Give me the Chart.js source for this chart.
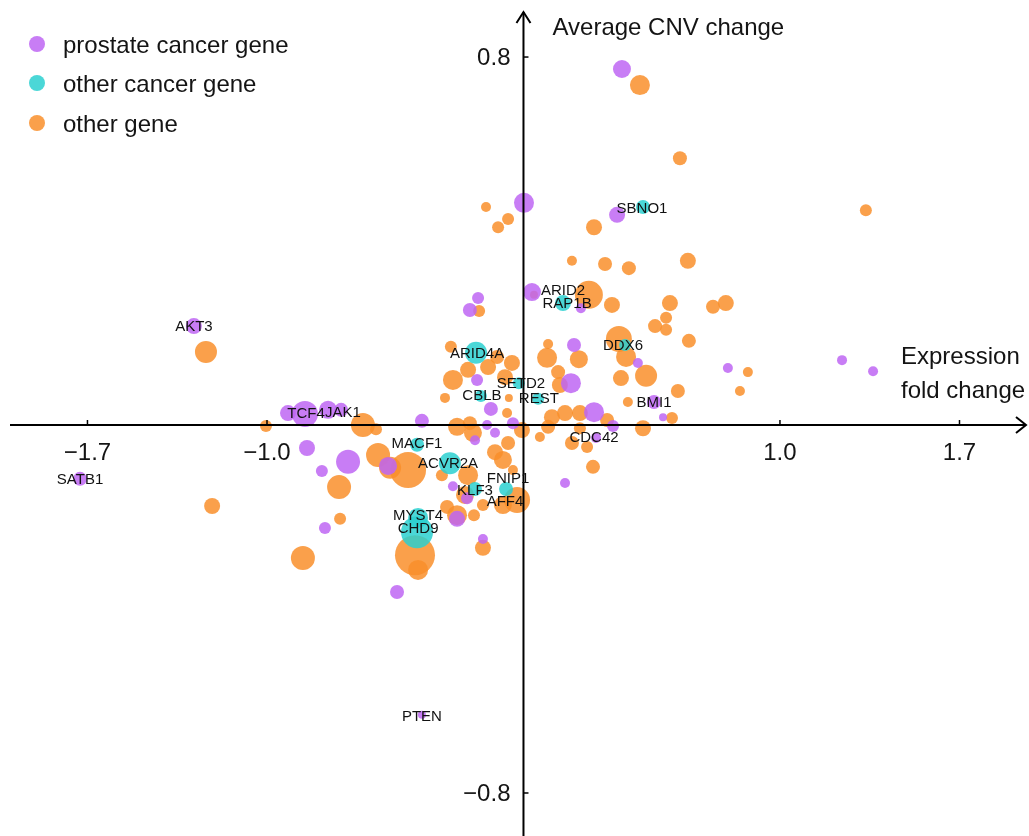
<!DOCTYPE html>
<html>
<head>
<meta charset="utf-8">
<script src="https://cdn.jsdelivr.net/npm/chart.js@4.4.1/dist/chart.umd.min.js"></script>
<style>
  html, body { margin: 0; padding: 0; background: #ffffff; }
  #wrap { width: 1029px; height: 836px; }
</style>
</head>
<body>
<div id="wrap"><canvas id="c" width="1029" height="836"></canvas></div>
<script>
// ---- DATA: [expression fold change, average CNV change, bubble size] ----
const seriesNames = ['prostate cancer gene', 'other cancer gene', 'other gene'];

const prostateGenes = [
  [0.384, 0.774, 9], [0.002, 0.483, 10], [0.365, 0.457, 8], [0.033, 0.289, 9],
  [0.224, 0.254, 5], [-0.177, 0.276, 6], [-0.209, 0.250, 7], [0.197, 0.174, 7],
  [0.446, 0.135, 5], [-0.181, 0.098, 6], [0.185, 0.091, 10], [-0.127, 0.035, 7],
  [-0.396, 0.009, 7], [0.275, 0.028, 10], [0.509, 0.050, 7], [0.544, 0.017, 4],
  [0.349, -0.002, 6], [0.283, -0.028, 5], [0.162, -0.126, 5], [-1.285, 0.215, 8],
  [-1.729, -0.117, 7], [-0.918, 0.026, 8], [-0.852, 0.024, 13], [-0.762, 0.033, 9],
  [-0.711, 0.033, 7], [-0.844, -0.050, 8], [-0.684, -0.080, 12], [-0.786, -0.100, 6],
  [-0.774, -0.224, 6], [-0.528, -0.089, 9], [-0.142, 0.000, 5], [-0.111, -0.017, 5],
  [-0.041, 0.004, 6], [-0.189, -0.033, 5], [-0.275, -0.133, 5], [-0.220, -0.159, 6],
  [-0.259, -0.204, 8], [-0.158, -0.248, 5], [-0.493, -0.363, 7], [-0.396, -0.630, 4],
  [0.797, 0.124, 5], [1.242, 0.141, 5], [1.363, 0.117, 5]
];

const otherCancerGenes = [
  [0.466, 0.474, 7], [0.154, 0.265, 8], [0.396, 0.174, 6], [-0.185, 0.157, 11],
  [-0.018, 0.091, 6], [-0.166, 0.063, 6], [0.057, 0.057, 6], [-0.415, -0.043, 7],
  [-0.287, -0.083, 11], [-0.189, -0.139, 7], [-0.068, -0.139, 7], [-0.411, -0.202, 10],
  [-0.415, -0.233, 16]
];

const otherGenes = [
  [0.454, 0.739, 10], [0.610, 0.580, 7], [1.335, 0.467, 6], [-0.146, 0.474, 5],
  [-0.060, 0.448, 6], [-0.099, 0.430, 6], [0.275, 0.430, 8], [0.189, 0.357, 5],
  [0.318, 0.350, 7], [0.411, 0.341, 7], [0.641, 0.357, 8], [0.255, 0.283, 14],
  [0.041, 0.283, 4], [0.345, 0.261, 8], [0.571, 0.265, 8], [0.739, 0.257, 7],
  [0.789, 0.265, 8], [0.556, 0.233, 6], [0.513, 0.215, 7], [0.556, 0.207, 6],
  [0.645, 0.183, 7], [-0.173, 0.248, 6], [0.096, 0.176, 5], [0.372, 0.187, 13],
  [0.400, 0.148, 10], [0.478, 0.107, 11], [0.380, 0.102, 8], [0.602, 0.074, 7],
  [0.875, 0.115, 5], [0.844, 0.074, 5], [0.407, 0.050, 5], [0.579, 0.015, 6],
  [0.466, -0.007, 8], [0.326, 0.011, 7], [-0.283, 0.170, 6], [0.092, 0.146, 10],
  [0.216, 0.143, 9], [-0.045, 0.135, 8], [-0.103, 0.148, 7], [-0.216, 0.120, 8],
  [-0.138, 0.126, 8], [-0.275, 0.098, 10], [-0.072, 0.104, 8], [0.135, 0.115, 7],
  [0.142, 0.087, 8], [-0.306, 0.059, 5], [-0.057, 0.059, 4], [0.111, 0.017, 8],
  [0.162, 0.026, 8], [0.220, 0.026, 8], [0.096, -0.004, 7], [-0.006, -0.011, 8],
  [0.064, -0.026, 5], [0.220, -0.007, 6], [0.189, -0.039, 7], [0.248, -0.048, 6],
  [0.271, -0.091, 7], [-0.209, 0.004, 7], [-0.259, -0.004, 9], [-0.197, -0.017, 9],
  [-0.064, 0.026, 5], [-0.060, -0.039, 7], [-0.111, -0.059, 8], [-0.080, -0.076, 9],
  [-0.041, -0.098, 5], [-0.216, -0.109, 10], [-0.318, -0.109, 6], [-0.228, -0.152, 9],
  [-0.158, -0.174, 6], [-0.080, -0.174, 9], [-0.025, -0.163, 13], [-0.193, -0.196, 6],
  [-0.298, -0.178, 7], [-0.259, -0.196, 10], [-0.158, -0.267, 8], [-0.423, -0.283, 20],
  [-0.411, -0.315, 10], [-1.238, 0.159, 11], [-1.004, -0.002, 6], [-0.626, 0.000, 12],
  [-0.575, -0.009, 6], [-0.567, -0.065, 12], [-0.520, -0.093, 11], [-0.450, -0.098, 18],
  [-0.719, -0.135, 12], [-1.214, -0.176, 8], [-0.715, -0.204, 6], [-0.860, -0.289, 12]
];

// gene name annotations: [name, x, y]
const geneLabels = [
  ['AKT3', -1.285, 0.215], ['SATB1', -1.729, -0.117], ['TCF4', -0.848, 0.026],
  ['JAK1', -0.704, 0.028], ['MACF1', -0.415, -0.039], ['ACVR2A', -0.294, -0.083],
  ['FNIP1', -0.060, -0.115], ['KLF3', -0.189, -0.141], ['AFF4', -0.072, -0.165],
  ['MYST4', -0.411, -0.196], ['CHD9', -0.411, -0.224], ['PTEN', -0.396, -0.633],
  ['ARID4A', -0.181, 0.157], ['SETD2', -0.010, 0.091], ['CBLB', -0.162, 0.065],
  ['REST', 0.060, 0.059], ['ARID2', 0.154, 0.293], ['RAP1B', 0.170, 0.265],
  ['DDX6', 0.388, 0.174], ['BMI1', 0.509, 0.050], ['CDC42', 0.275, -0.026],
  ['SBNO1', 0.462, 0.472]
];

const xTickValues = [-1.7, -1.0, 1.0, 1.7];
const yTickValues = [0.8, -0.8];
const xTitle = ['Expression', 'fold change'];
const yTitle = 'Average CNV change';
const xRange = [-2.041, 1.971];
const yRange = [-0.8935, 0.924];

// ---- styles ----
const colors = ['rgba(190,102,243,0.85)', 'rgba(43,208,208,0.85)', 'rgba(249,143,43,0.85)'];
const legendColors = ['rgb(200,125,245)', 'rgb(75,215,215)', 'rgb(250,160,75)'];
const FONT = '"Liberation Sans", Arial, Helvetica, sans-serif';
const TEXT = '#141414';

const toPts = arr => arr.map(d => ({ x: d[0], y: d[1], r: d[2] }));

const fmt = v => v.toFixed(1).replace('-', '\u2212');

const overlay = {
  id: 'overlay',
  afterDatasetsDraw(chart) {
    const ctx = chart.ctx;
    const xs = chart.scales.x, ys = chart.scales.y;
    const area = chart.chartArea;
    const x0 = xs.getPixelForValue(0);
    const y0 = ys.getPixelForValue(0);
    ctx.save();
    ctx.strokeStyle = '#000';
    ctx.fillStyle = TEXT;
    ctx.lineWidth = 2;
    ctx.lineCap = 'butt';
    // x axis with arrow
    ctx.beginPath();
    ctx.moveTo(area.left + 10, y0);
    ctx.lineTo(area.right - 3, y0);
    ctx.stroke();
    ctx.beginPath();
    ctx.moveTo(area.right - 13, y0 - 8);
    ctx.lineTo(area.right - 3, y0);
    ctx.lineTo(area.right - 13, y0 + 8);
    ctx.stroke();
    // y axis with arrow
    ctx.beginPath();
    ctx.moveTo(x0, area.bottom);
    ctx.lineTo(x0, area.top + 12);
    ctx.stroke();
    ctx.beginPath();
    ctx.moveTo(x0 - 7, area.top + 23);
    ctx.lineTo(x0, area.top + 12);
    ctx.lineTo(x0 + 7, area.top + 23);
    ctx.stroke();
    // ticks
    ctx.font = '24px ' + FONT;
    ctx.lineWidth = 1.5;
    xTickValues.forEach(v => {
      const px = xs.getPixelForValue(v);
      ctx.beginPath(); ctx.moveTo(px, y0); ctx.lineTo(px, y0 - 5); ctx.stroke();
      ctx.textAlign = 'center'; ctx.textBaseline = 'alphabetic';
      ctx.fillText(fmt(v), px, y0 + 35);
    });
    yTickValues.forEach(v => {
      const py = ys.getPixelForValue(v);
      ctx.beginPath(); ctx.moveTo(x0, py); ctx.lineTo(x0 + 5, py); ctx.stroke();
      ctx.textAlign = 'right'; ctx.textBaseline = 'alphabetic';
      ctx.fillText(fmt(v), x0 - 13, py + 8);
    });
    // axis titles
    ctx.font = '24px ' + FONT;
    ctx.textAlign = 'left';
    ctx.textBaseline = 'alphabetic';
    ctx.fillText(yTitle, x0 + 29, area.top + 35);
    ctx.fillText(xTitle[0], area.right - 128, y0 - 61);
    ctx.fillText(xTitle[1], area.right - 128, y0 - 27);
    // gene labels
    ctx.font = '15px ' + FONT;
    ctx.textAlign = 'center';
    ctx.textBaseline = 'middle';
    ctx.fillStyle = '#111';
    geneLabels.forEach(g => {
      ctx.fillText(g[0], xs.getPixelForValue(g[1]), ys.getPixelForValue(g[2]) + 1);
    });
    // legend
    ctx.font = '24px ' + FONT;
    ctx.textAlign = 'left';
    ctx.textBaseline = 'alphabetic';
    const ly = [44, 83, 123];
    seriesNames.forEach((name, i) => {
      ctx.fillStyle = legendColors[i];
      ctx.beginPath();
      ctx.arc(area.left + 37, area.top + ly[i], 8, 0, Math.PI * 2);
      ctx.fill();
      ctx.fillStyle = TEXT;
      ctx.fillText(name, area.left + 63, area.top + ly[i] + 9);
    });
    ctx.restore();
  }
};

new Chart(document.getElementById('c'), {
  type: 'bubble',
  data: {
    datasets: [
      { label: seriesNames[0], data: toPts(prostateGenes), backgroundColor: colors[0], borderWidth: 0, order: 2 },
      { label: seriesNames[1], data: toPts(otherCancerGenes), backgroundColor: colors[1], borderWidth: 0, order: 1 },
      { label: seriesNames[2], data: toPts(otherGenes), backgroundColor: colors[2], borderWidth: 0, order: 3 }
    ]
  },
  options: {
    responsive: false,
    devicePixelRatio: 1,
    animation: false,
    layout: { padding: 0, autoPadding: false },
    clip: false,
    plugins: { legend: { display: false }, tooltip: { enabled: false } },
    scales: {
      x: { type: 'linear', display: false, min: xRange[0], max: xRange[1] },
      y: { type: 'linear', display: false, min: yRange[0], max: yRange[1] }
    },
    elements: { point: { hoverRadius: 0 } }
  },
  plugins: [overlay]
});
</script>
</body>
</html>
